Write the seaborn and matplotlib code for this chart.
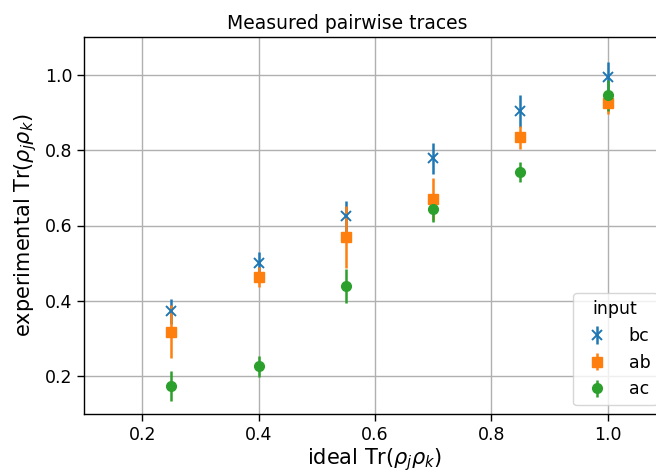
import numpy as np
import pandas as pd
import seaborn as sns
import matplotlib
matplotlib.use("Agg")
import matplotlib.pyplot as plt

ideal = [0.25, 0.40, 0.55, 0.70, 0.85, 1.00]
series_names = ["bc", "ab", "ac"]
bc_vals = [0.372, 0.501, 0.624, 0.778, 0.904, 0.995]
bc_err = [0.034, 0.028, 0.040, 0.042, 0.043, 0.040]
ab_vals = [0.318, 0.464, 0.570, 0.670, 0.834, 0.924]
ab_err = [0.070, 0.026, 0.083, 0.055, 0.030, 0.028]
ac_vals = [0.174, 0.226, 0.440, 0.644, 0.742, 0.945]
ac_err = [0.040, 0.028, 0.045, 0.034, 0.026, 0.040]
x_ticks = [0.2, 0.4, 0.6, 0.8, 1.0]
y_ticks = [0.2, 0.4, 0.6, 0.8, 1.0]

sns.set_style("ticks")
plt.rcParams["font.family"] = ["DejaVu Sans"]
plt.rcParams["mathtext.fontset"] = "dejavusans"
for key in ["text.color", "axes.labelcolor", "xtick.color", "ytick.color",
            "xtick.labelcolor", "ytick.labelcolor", "axes.edgecolor"]:
    plt.rcParams[key] = "black"
pal = sns.color_palette("tab10")

fig = plt.figure(figsize=(6.56, 4.74), dpi=100)
ax = fig.add_axes([84 / 656, 60 / 474, 582 / 656, 377 / 474])

markers = {"bc": "x", "ab": "s", "ac": "o"}
colors = {"bc": pal[0], "ab": pal[1], "ac": pal[2]}
data = {"bc": (bc_vals, bc_err), "ab": (ab_vals, ab_err), "ac": (ac_vals, ac_err)}

for name in series_names:
    vals, errs = data[name]
    ax.errorbar(ideal, vals, yerr=errs, fmt=markers[name], color=colors[name],
                markersize=7.0,
                markeredgewidth=1.4 if name == "bc" else 1.0,
                elinewidth=1.8, capsize=0, label=name)

ax.set_xlim(0.1, 1.1)
ax.set_ylim(0.1, 1.1)
ax.set_xticks(x_ticks)
ax.set_yticks(y_ticks)
ax.set_xticklabels([f"{t:.1f}" for t in x_ticks])
ax.set_yticklabels([f"{t:.1f}" for t in y_ticks])
ax.grid(True, color="#b0b0b0", linewidth=1.0)
ax.set_axisbelow(True)
for s in ax.spines.values():
    s.set_color("black")
    s.set_linewidth(1.0)
ax.tick_params(axis="both", labelsize=12.5, length=5, width=1.0, color="black",
               labelcolor="black", direction="out")

ax.set_xlabel(r"ideal Tr($\rho_j\rho_k$)", fontsize=15, labelpad=2, color="black")
ax.set_ylabel(r"experimental Tr($\rho_j\rho_k$)", fontsize=15, color="black")
ax.set_title("Measured pairwise traces", fontsize=13.5, x=(347 - 84) / 582, color="black")

leg = ax.legend(title="input", loc="lower right", fontsize=12.5, title_fontsize=12.5,
                framealpha=0.8)
for t in leg.get_texts():
    t.set_color("black")
leg.get_title().set_color("black")

fig.savefig("out.png", dpi=100)
